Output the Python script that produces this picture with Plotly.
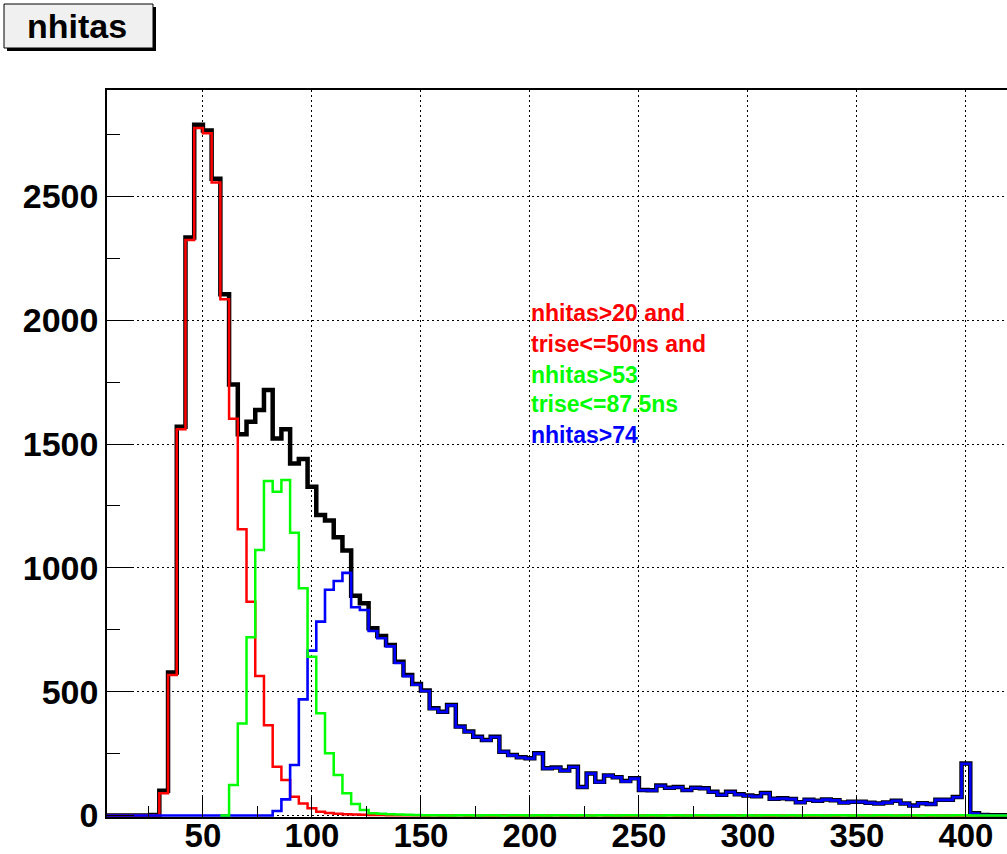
import plotly.graph_objects as go

# ---------------- data ----------------
bin_width = 4
bin_low = list(range(6, 422, bin_width))  # 104 bins, 6..422

all_counts = [0, 0, 0, 0, 0, 2,
              100, 578, 1570, 2334, 2790, 2766, 2572, 2105, 1741, 1540,
              1590, 1638, 1718, 1523, 1560, 1422, 1440, 1328, 1214, 1191,
              1124, 1070, 888, 857, 756, 725, 689, 621, 567, 531,
              505, 433, 419, 446, 359, 339, 318, 305, 318, 258,
              244, 235, 231, 251, 191, 194, 182, 197, 115, 170,
              136, 162, 155, 139, 150, 103, 102, 121, 112, 115,
              103, 112, 110, 96, 84, 96, 86, 81, 78, 91,
              68, 70, 67, 54, 64, 60, 65, 62, 53, 56,
              56, 52, 49, 53, 60, 49, 40, 50, 47, 64,
              64, 75, 210, 9, 2, 1, 1, 0]

red_counts = [0, 0, 0, 0, 0, 0,
              90, 567, 1560, 2324, 2777, 2755, 2556, 2085, 1602, 1156,
              863, 563, 365, 197, 143, 76, 49, 29, 15, 10,
              7, 5, 4, 3, 2, 2, 1, 1, 1, 1,
              0, 1, 0, 0, 1, 0, 0, 0, 0, 1,
              0, 0, 0, 0, 0, 1, 0, 0, 0, 0,
              1, 0, 0, 0, 0, 0, 0, 0, 1, 0,
              0, 0, 0, 0, 0, 0, 1, 0, 0, 0,
              0, 0, 0, 0, 0, 0, 0, 0, 1, 0,
              0, 0, 0, 0, 0, 0, 0, 1, 0, 0,
              0, 0, 0, 0, 0, 0, 0, 0]

green_counts = [0, 0, 0, 0, 0, 0, 0, 0, 0, 0, 0, 0, 0, 0,
                123, 372, 720, 1072, 1351, 1308, 1355, 1142, 918, 641,
                413, 251, 164, 90, 47, 22, 9, 7, 5, 4, 3, 2,
                1, 1, 1, 0, 1, 1, 0, 1, 1, 0,
                1, 1, 0, 1, 0, 1, 1, 0, 1, 0,
                1, 1, 0, 1, 1, 0, 1, 0, 1, 1,
                0, 1, 1, 0, 1, 1, 0, 1, 0, 1,
                1, 0, 1, 0, 1, 1, 0, 1, 1, 0,
                1, 0, 1, 1, 0, 1, 1, 0, 1, 0,
                0, 1, 1, 0, 0, 0, 0, 0]

blue_counts = [0, 0, 0, 0, 0, 0, 0, 0, 0, 0, 0, 0, 0, 0, 0, 0, 0, 0, 0,
               18, 65, 204, 469, 666, 783, 912, 947, 980, 841, 830,
               745, 716, 683, 616, 563, 528, 503, 431, 418, 445,
               358, 338, 317, 304, 317, 257, 243, 234, 230, 250,
               190, 193, 181, 196, 114, 169, 135, 161, 154, 138,
               149, 102, 101, 120, 111, 114, 102, 111, 109, 95,
               83, 95, 85, 80, 77, 90, 67, 69, 66, 53,
               63, 59, 64, 61, 52, 55, 55, 51, 48, 52,
               59, 48, 39, 49, 46, 63, 63, 74, 209, 8,
               2, 1, 1, 0]

x_tickvals = [50, 100, 150, 200, 250, 300, 350, 400]
y_tickvals = [0, 500, 1000, 1500, 2000, 2500]

legend_lines = ["nhitas>20 and", "trise<=50ns and", "nhitas>53",
                "trise<=87.5ns", "nhitas>74"]
legend_colors = ["#ff0000", "#ff0000", "#00ff00", "#00ff00", "#0000ff"]
legend_y = [2030, 1903, 1781, 1660, 1536]
legend_x = 199.5

title_text = "nhitas"

for arr in (all_counts, red_counts, green_counts, blue_counts):
    assert len(arr) == len(bin_low), len(arr)

# ---------------- figure ----------------
W, H = 1007, 854
ML, MR, MT, MB = 107, 0, 90, 37
PW, PH = W - ML - MR, H - MT - MB
FONT = "Liberation Sans, Arial, Helvetica, sans-serif"


def step_xy(values, trim_leading=False):
    edges = bin_low + [bin_low[-1] + bin_width]
    start = 0
    if trim_leading:
        first = next(i for i, v in enumerate(values) if v > 0)
        start = max(first - 1, 0)
    xs = edges[start:]
    ys = list(values[start:]) + [values[-1]]
    return xs, ys


fig = go.Figure()
for vals, color, width, trim in [
    (all_counts, "#000000", 4.5, False),
    (red_counts, "#ff0000", 2.5, False),
    (blue_counts, "#0000ff", 2.6, False),
    (green_counts, "#00ff00", 2.5, True),
]:
    xs, ys = step_xy(vals, trim)
    fig.add_trace(go.Scatter(x=xs, y=ys, mode="lines", line_shape="hv",
                             line=dict(color=color, width=width),
                             showlegend=False, hoverinfo="skip"))

for txt, col, yv in zip(legend_lines, legend_colors, legend_y):
    fig.add_annotation(x=legend_x, y=yv, xref="x", yref="y", text=txt,
                       showarrow=False, xanchor="left", yanchor="middle",
                       font=dict(family=FONT, size=23, color=col, weight="bold"))


def px2paper(px, py):
    return (px - ML) / PW, (H - MB - py) / PH


# title box with shadow
sx0, sy0 = px2paper(7, 7)
sx1, sy1 = px2paper(156, 51)
fig.add_shape(type="rect", xref="paper", yref="paper", x0=sx0, y0=sy0, x1=sx1, y1=sy1,
              fillcolor="#000000", line=dict(width=0), layer="above")
bx0, by0 = px2paper(4, 4)
bx1, by1 = px2paper(153, 48)
fig.add_shape(type="rect", xref="paper", yref="paper", x0=bx0, y0=by0, x1=bx1, y1=by1,
              fillcolor="#f0f0f0", line=dict(color="#000000", width=1), layer="above")
tx, ty = px2paper(77, 26)
fig.add_annotation(x=tx, y=ty, xref="paper", yref="paper", text=title_text,
                   showarrow=False, xanchor="center", yanchor="middle",
                   font=dict(family=FONT, size=34, color="#000000", weight="bold"))

fig.update_layout(
    width=W, height=H,
    margin=dict(l=ML, r=MR, t=MT, b=MB, pad=0, autoexpand=False),
    paper_bgcolor="white", plot_bgcolor="white",
    showlegend=False,
)
fig.update_xaxes(
    automargin=False,
    range=[6, 6 + PW / 2.18],
    tickvals=x_tickvals,
    ticks="inside", ticklen=22, tickwidth=1.2, tickcolor="black",
    minor=dict(dtick=25, ticks="inside", ticklen=11, tickwidth=1.2, tickcolor="black"),
    showgrid=True, gridcolor="black", gridwidth=1, griddash="2px,3px",
    showline=True, linecolor="black", linewidth=1.5, mirror=True,
    zeroline=False,
    ticklabelstandoff=-11,
    tickfont=dict(family=FONT, size=33, color="black", weight="bold"),
)
fig.update_yaxes(
    automargin=False,
    range=[-6, 2930],
    tickvals=y_tickvals,
    ticks="inside", ticklen=27, tickwidth=1.2, tickcolor="black",
    minor=dict(dtick=250, ticks="inside", ticklen=13, tickwidth=1.2, tickcolor="black"),
    showgrid=True, gridcolor="black", gridwidth=1, griddash="2px,3px",
    showline=True, linecolor="black", linewidth=1.5, mirror=False,
    zeroline=False,
    tickfont=dict(family=FONT, size=34, color="black", weight="bold"),
)

fig.write_html("out.html")
